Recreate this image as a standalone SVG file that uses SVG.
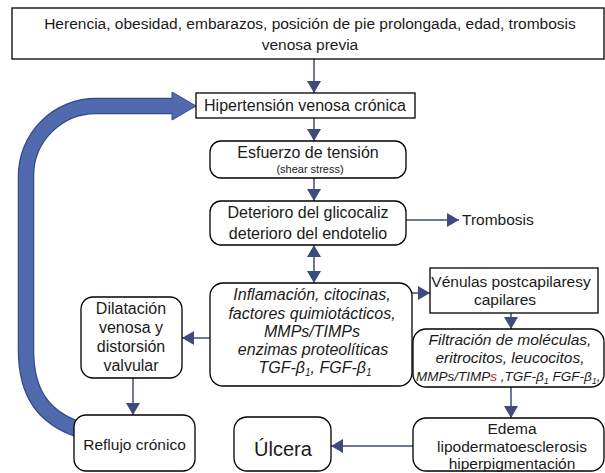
<svg xmlns="http://www.w3.org/2000/svg" width="605" height="473" viewBox="0 0 605 473">
<style>
.box{fill:#fff;stroke:#000;stroke-width:1.3}
.t{font-family:"Liberation Sans",Arial,Helvetica,sans-serif;font-size:15.5px;fill:#1a1a1a;text-anchor:middle}
.i{font-style:italic;font-size:16px}
.c{fill:none;stroke:#3E4B7C;stroke-width:1.5}
.ca{marker-end:url(#ah)}
</style>
<defs>
<marker id="ah" markerUnits="userSpaceOnUse" markerWidth="12" markerHeight="14" refX="12" refY="7" orient="auto-start-reverse" viewBox="0 0 12 14"><path d="M0,0 L12,7 L0,14 z" fill="#3E4B7C"/></marker>
</defs>
<rect width="605" height="473" fill="#fff"/>
<g id="connectors">
<g id="big-arrow">
<path d="M80 430 C44 418 26 394 26 350 L26 176 A70 70 0 0 1 96 106 L172 106" fill="none" stroke="#34498A" stroke-width="16.5"/>
<polygon points="172,92 196,106 172,120" fill="#5169AD" stroke="#34498A" stroke-width="1"/>
<path d="M80 430 C44 418 26 394 26 350 L26 176 A70 70 0 0 1 96 106 L174 106" fill="none" stroke="#5169AD" stroke-width="14"/>
</g>
<path class="c ca" d="M314 59 V93"/>
<path class="c ca" d="M314 118 V141"/>
<path class="c ca" d="M314 178 V201"/>
<path class="c ca" d="M406 220 H459"/>
<path class="c ca" d="M314 245 V283" marker-start="url(#ah)"/>
<path class="c ca" d="M412 293 H430"/>
<path class="c ca" d="M210 338 H182"/>
<path class="c ca" d="M133 378 V415"/>
<path class="c ca" d="M511 313 V329"/>
<path class="c ca" d="M511 387 V418"/>
<path class="c ca" d="M413 446 H331"/>
</g>
<g id="n-top">
<rect class="box" x="12" y="8" width="592" height="51"/>
<text class="t" x="310" y="28.5">Herencia, obesidad, embarazos, posición de pie prolongada, edad,  trombosis</text>
<text class="t" x="310" y="49.5">venosa previa</text>
</g>
<g id="n-hip">
<rect class="box" x="196" y="93" width="219" height="25"/>
<text class="t" x="305" y="111" style="font-size:16px">Hipertensión venosa crónica</text>
</g>
<g id="n-esf">
<rect class="box" x="210" y="141" width="196" height="37" rx="11"/>
<text class="t" x="308" y="158" style="font-size:16px">Esfuerzo de tensión</text>
<text class="t" x="310" y="173" style="font-size:11px">(shear stress)</text>
</g>
<g id="n-det">
<rect class="box" x="210" y="201" width="196" height="44" rx="11"/>
<text class="t" x="308" y="218" style="font-size:16px">Deterioro del glicocaliz</text>
<text class="t" x="308" y="239" style="font-size:16px">deterioro del endotelio</text>
</g>
<g id="n-trom">
<text class="t" x="462" y="225" style="text-anchor:start">Trombosis</text>
</g>
<g id="n-inf">
<rect class="box" x="210" y="283" width="202" height="103" rx="13"/>
<text class="t i" x="312" y="300">Inflamación, citocinas,</text>
<text class="t i" x="312" y="318.5">factores quimiotácticos,</text>
<text class="t i" x="312" y="337">MMPs/TIMPs</text>
<text class="t i" x="313" y="355">enzimas proteolíticas</text>
<text class="t i" x="315" y="373">TGF-β<tspan dy="3" style="font-size:10px">1</tspan><tspan dy="-3">, FGF-β</tspan><tspan dy="3" style="font-size:10px">1</tspan></text>
</g>
<g id="n-dil">
<rect class="box" x="81" y="297" width="101" height="81" rx="12"/>
<text class="t" x="131" y="314" style="font-size:16px">Dilatación</text>
<text class="t" x="131" y="333" style="font-size:16px">venosa y</text>
<text class="t" x="131" y="352" style="font-size:16px">distorsión</text>
<text class="t" x="131" y="371" style="font-size:16px">valvular</text>
</g>
<g id="n-ref">
<rect class="box" x="74" y="415" width="121" height="56" rx="12"/>
<text class="t" x="134.5" y="450">Reflujo crónico</text>
</g>
<g id="n-ven">
<rect class="box" x="430" y="268" width="168" height="45"/>
<text class="t" x="511" y="287">Vénulas postcapilaresy</text>
<text class="t" x="505" y="305">capilares</text>
</g>
<g id="n-fil">
<rect class="box" x="413" y="329" width="191" height="58" rx="13"/>
<text class="t i" x="510" y="345" style="font-size:15.5px">Filtración de moléculas,</text>
<text class="t i" x="510" y="363" style="font-size:15.5px">eritrocitos, leucocitos,</text>
<text class="t i" x="416" y="381" style="font-size:13.5px;text-anchor:start">MMPs/TIMP<tspan fill="#D02020">s</tspan> ,TGF-β<tspan dy="3" style="font-size:9px">1</tspan><tspan dy="-3"> FGF-β</tspan><tspan dy="3" style="font-size:9px">1</tspan><tspan dy="-3">,</tspan></text>
</g>
<g id="n-ede">
<rect class="box" x="413" y="418" width="191" height="53" rx="13"/>
<text class="t" x="512" y="434">Edema</text>
<text class="t" x="512" y="452">lipodermatoesclerosis</text>
<text class="t" x="512" y="469">hiperpigmentación</text>
</g>
<g id="n-ulc">
<rect class="box" x="234" y="417" width="97" height="54" rx="13"/>
<text class="t" x="283" y="456" style="font-size:20px">Úlcera</text>
</g>
</svg>
